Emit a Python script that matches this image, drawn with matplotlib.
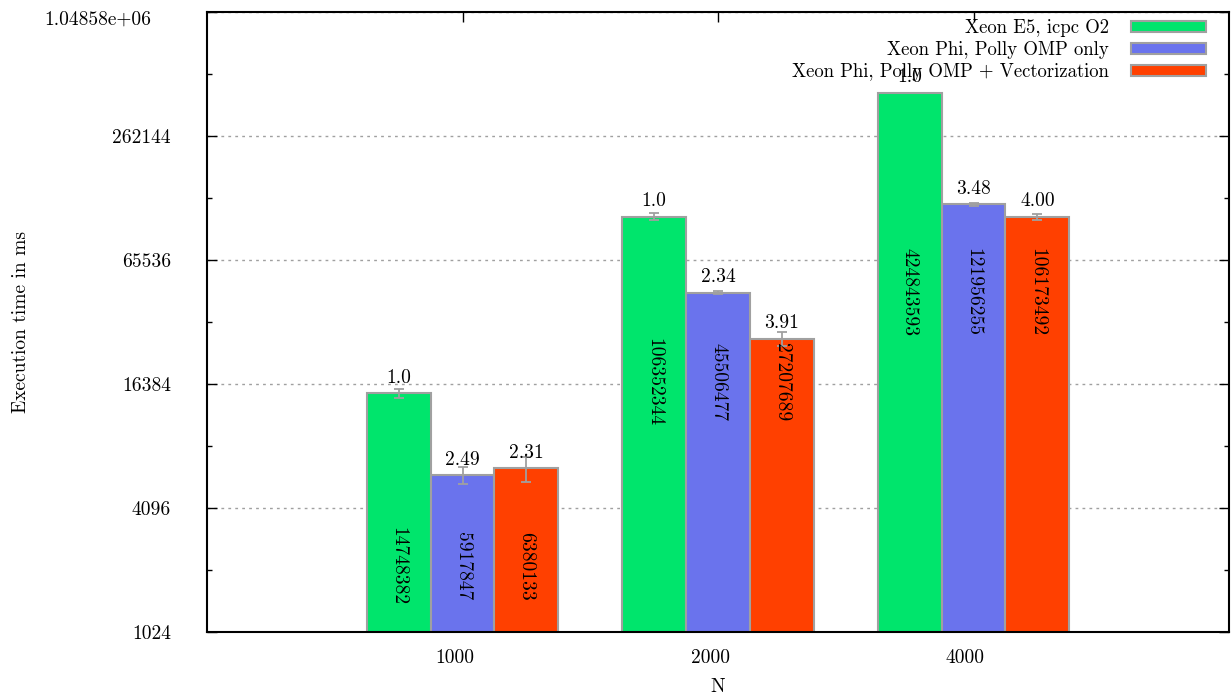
import matplotlib
matplotlib.use('Agg')
import matplotlib.pyplot as plt
import matplotlib.transforms as mtransforms
from matplotlib.patches import Patch
import numpy as np

plt.rcParams['font.family'] = 'cmr10'
plt.rcParams['mathtext.fontset'] = 'cm'
plt.rcParams['axes.formatter.use_mathtext'] = True

# datos
tamanos = ['1000', '2000', '4000']
series = ['Xeon E5, icpc O2', 'Xeon Phi, Polly OMP only',
          'Xeon Phi, Polly OMP + Vectorization']
tiempos_us = [
    [14748382, 106352344, 424843593],
    [5917847, 45506477, 121956255],
    [6380133, 27207689, 106173492],
]
errores_ms = [
    [700, 4000, 1000],
    [570, 900, 1500],
    [880, 2200, 3500],
]
speedups = [
    ['1.0', '1.0', '1.0'],
    ['2.49', '2.34', '3.48'],
    ['2.31', '3.91', '4.00'],
]
# altura (ms) donde va el texto vertical de cada grupo
altura_etiqueta = [2130, 16750, 45800]

colores = ['#00e56c', '#6a73ed', '#ff4000']
borde = '#a0a0a0'

fig = plt.figure(figsize=(12.31, 6.97), dpi=100)
ax = fig.add_axes([207/1231, 65/697, 1022/1231, 620/697])

x = np.arange(len(tamanos))
ancho = 0.25
for j in range(len(series)):
    valores = np.array(tiempos_us[j]) / 1000.0
    pos = x + (j - 1) * ancho
    ax.bar(pos, valores, width=ancho, color=colores[j], edgecolor=borde,
           linewidth=1.5, zorder=2)
    ax.errorbar(pos, valores, yerr=errores_ms[j], fmt='none', ecolor=borde,
                elinewidth=1.3, capsize=3.5, capthick=1.3, zorder=3)
    for i in range(len(tamanos)):
        ax.annotate(speedups[j][i], (pos[i], valores[i]), xytext=(0, 7.5),
                    textcoords='offset points', ha='center', va='baseline',
                    fontsize=14, zorder=4)
        ax.text(pos[i], altura_etiqueta[i], str(tiempos_us[j][i]),
                rotation=-90, ha='center', va='center', fontsize=14,
                zorder=4)

ax.set_yscale('log', base=2)
ax.set_ylim(1024, 1048576)
ax.set_xlim(-1, 3)

yt = [1024, 4096, 16384, 65536, 262144, 1048576]
ax.set_yticks(yt)
ax.set_yticklabels(['1024', '4096', '16384', '65536', '262144', '1.04858e+06'])
ax.set_yticks([2048, 8192, 32768, 131072, 524288], minor=True)
ax.set_yticklabels([], minor=True)
ax.set_xticks(x)
ax.set_xticklabels(tamanos)

ax.tick_params(axis='y', which='major', direction='in', length=7, width=1,
               right=True, labelsize=14, pad=26)
ax.tick_params(axis='y', which='minor', direction='in', length=3.5,
               width=1, right=True)
ax.tick_params(axis='x', which='major', direction='in', length=7, width=1,
               top=True, bottom=False, labelsize=14, pad=12)

ax.yaxis.grid(True, which='major', linestyle=(0, (2, 3)), color='#a0a0a0',
              linewidth=1)
ax.set_axisbelow(True)
for s in ax.spines.values():
    s.set_linewidth(1.5)

ax.set_xlabel('N', fontsize=14, labelpad=8)
ax.set_ylabel('Execution time in ms', fontsize=14, labelpad=10)

manijas = [Patch(facecolor=c, edgecolor=borde, linewidth=1.5) for c in colores]
ax.legend(manijas, series, loc='upper right', frameon=False, fontsize=13.5,
          markerfirst=False, handlelength=4.0, handleheight=0.55,
          handletextpad=1.15, labelspacing=0.2, borderpad=0,
          bbox_to_anchor=(1215/1231, (697-10)/697),
          bbox_transform=fig.transFigure)

# desplazamientos estilo gnuplot
dx = mtransforms.ScaledTranslation(-8/100, 0, fig.dpi_scale_trans)
for lab in ax.get_xticklabels():
    lab.set_transform(lab.get_transform() + dx)
arriba = ax.get_yticklabels()[-1]
arriba.set_transform(arriba.get_transform() +
                     mtransforms.ScaledTranslation(-20/100, -6/100,
                                                   fig.dpi_scale_trans))

fig.savefig('out.png', dpi=100)
